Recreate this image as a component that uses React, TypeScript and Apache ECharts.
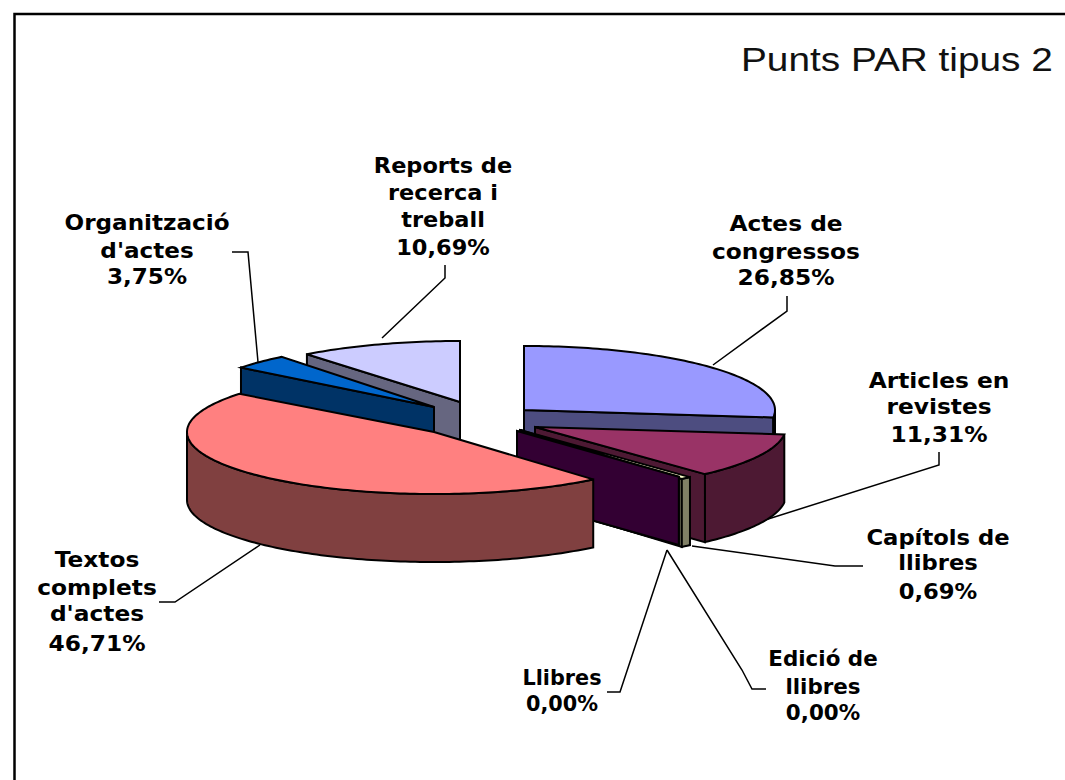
import React, { useEffect, useRef } from "react";
import * as echarts from "echarts";

const categories = ["Actes de congressos", "Articles en revistes", "Capítols de llibres", "Edició de llibres", "Llibres", "Textos complets d'actes", "Organització d'actes", "Reports de recerca i treball"];
const values = [26.85, 11.31, 0.69, 0, 0, 46.71, 3.75, 10.69];
const percentLabels = ["26,85%", "11,31%", "0,69%", "0,00%", "0,00%", "46,71%", "3,75%", "10,69%"];
const topColors = ["#9999FF", "#993366", "#FFFFCC", "#CCFFFF", "#660066", "#FF8080", "#0066CC", "#CCCCFF"];
const sideColors = ["#4D4D80", "#4D1933", "#808066", "#668080", "#330033", "#804040", "#003366", "#666680"];
// exploded slice apexes and ellipse radii [x, y, rx, ry]
const sliceFrames = [
  [524, 410, 251, 64], [535, 427, 251, 64], [520, 430, 251, 64], [517, 431, 251, 60],
  [517, 431, 251, 60], [434, 432, 247, 62], [434, 407, 245, 64], [460, 402, 246, 61],
];
const drawOrder = [7, 6, 0, 1, 2, 3, 4, 5];
const DEPTH = 68;

const labelLines = [
  ["Actes de", "congressos"], ["Articles en", "revistes"], ["Capítols de", "llibres"], ["Edició de", "llibres"],
  ["Llibres"], ["Textos", "complets", "d'actes"], ["Organització", "d'actes"], ["Reports de", "recerca i", "treball"],
];
const labelCenters = [786, 939, 938, 823, 562, 97, 147, 443];
const labelRows = [
  [223, 251, 277], [380, 406, 434], [538, 563, 592], [659, 687, 713],
  [678, 704], [559, 587, 613, 643], [223, 251, 277], [166, 193, 220, 248],
];
const labelStretch = [1.11, 1.11, 1.08, 1.02, 0.99, 1.11, 1.1, 1.07];
const leaders = [
  [[787, 296], [787, 311], [713, 365]],
  [[939, 452], [939, 465], [765, 520]],
  [[863, 566], [835, 566], [692, 546]],
  [[766, 689], [752, 689], [742, 670], [667, 550]],
  [[607, 692], [620, 692], [667, 550]],
  [[159, 602], [175, 602], [260, 545]],
  [[232, 252], [248, 252], [258, 362]],
  [[445, 265], [445, 278], [382, 338]],
];

const LABEL_FONT = "DejaVu Sans";
const LABEL_SIZE = 21;

function angleRange(index: number): [number, number] {
  const total = values.reduce((a, b) => a + b, 0);
  let before = 0;
  for (let i = 0; i < index; i++) before += values[i];
  return [(before / total) * 2 * Math.PI, ((before + values[index]) / total) * 2 * Math.PI];
}

function renderSlice(params: any) {
  const i = params.dataIndex;
  const [cx, cy, rx, ry] = sliceFrames[i];
  const [a0, a1] = angleRange(i);
  const pt = (a: number): number[] => [cx + Math.sin(a) * rx, cy - Math.cos(a) * ry];
  const arc = (from: number, to: number): number[][] => {
    const steps = Math.max(2, Math.ceil((to - from) / 0.02));
    const out: number[][] = [];
    for (let s = 0; s <= steps; s++) out.push(pt(from + ((to - from) * s) / steps));
    return out;
  };
  const z2 = drawOrder.indexOf(i) * 10;
  const edge = { stroke: "#000", lineWidth: 2, lineJoin: "miter" };
  const children: any[] = [];
  const face = (a: number, key: string) => {
    const p = pt(a);
    children.push({
      type: "polygon", z2, name: key,
      shape: { points: [[cx, cy], p, [p[0], p[1] + DEPTH], [cx, cy + DEPTH]] },
      style: { fill: sideColors[i], ...edge },
    });
  };
  if (a0 > Math.PI && a0 < 2 * Math.PI) face(a0, "start");
  if (a1 > 0 && a1 < Math.PI) face(a1, "end");
  const s0 = Math.max(a0, Math.PI / 2);
  const s1 = Math.min(a1, (3 * Math.PI) / 2);
  if (s1 > s0) {
    const top = arc(s0, s1);
    const bottom = top.map((p) => [p[0], p[1] + DEPTH]).reverse();
    children.push({
      type: "polygon", z2: z2 + 1,
      shape: { points: [...top, ...bottom] },
      style: { fill: sideColors[i], ...edge },
    });
  }
  if (a1 > a0) {
    children.push({
      type: "polygon", z2: z2 + 2,
      shape: { points: [[cx, cy], ...arc(a0, a1)] },
      style: { fill: topColors[i], ...edge },
    });
  }
  return { type: "group", children };
}

function buildGraphic() {
  const g: any[] = [
    { type: "polyline", shape: { points: [[14.5, 780], [14.5, 14], [1065, 14]] }, style: { stroke: "#000", lineWidth: 2.5, fill: "none" } },
    {
      type: "text", x: 741, y: 76, scaleX: 1.175,
      style: { text: "Punts PAR tipus 2", fill: "#111", font: '33px "Liberation Sans"', textAlign: "left", textVerticalAlign: "bottom" },
    },
  ];
  categories.forEach((_, i) => {
    const rows = [...labelLines[i], percentLabels[i]];
    rows.forEach((line, r) => {
      g.push({
        type: "text", x: labelCenters[i], y: labelRows[i][r], scaleX: labelStretch[i],
        style: { text: line, fill: "#000", font: `bold ${LABEL_SIZE}px "${LABEL_FONT}"`, textAlign: "center", textVerticalAlign: "middle" },
      });
    });
    g.push({ type: "polyline", z: 0, shape: { points: leaders[i] }, style: { stroke: "#000", lineWidth: 1.5, fill: "none" } });
  });
  return g;
}

export default function App() {
  const ref = useRef<HTMLDivElement>(null);
  useEffect(() => {
    const chart = echarts.init(ref.current!, undefined, { renderer: "svg" });
    chart.setOption({
      animation: false,
      backgroundColor: "#fff",
      graphic: buildGraphic(),
      series: [{
        type: "custom",
        coordinateSystem: "none",
        silent: true,
        z: 5,
        data: values.map((v, i) => ({ name: categories[i], value: v })),
        renderItem: renderSlice,
      }],
    });
    return () => chart.dispose();
  }, []);
  return <div ref={ref} style={{ position: "absolute", left: 0, top: 0, width: 1065, height: 780 }} />;
}
